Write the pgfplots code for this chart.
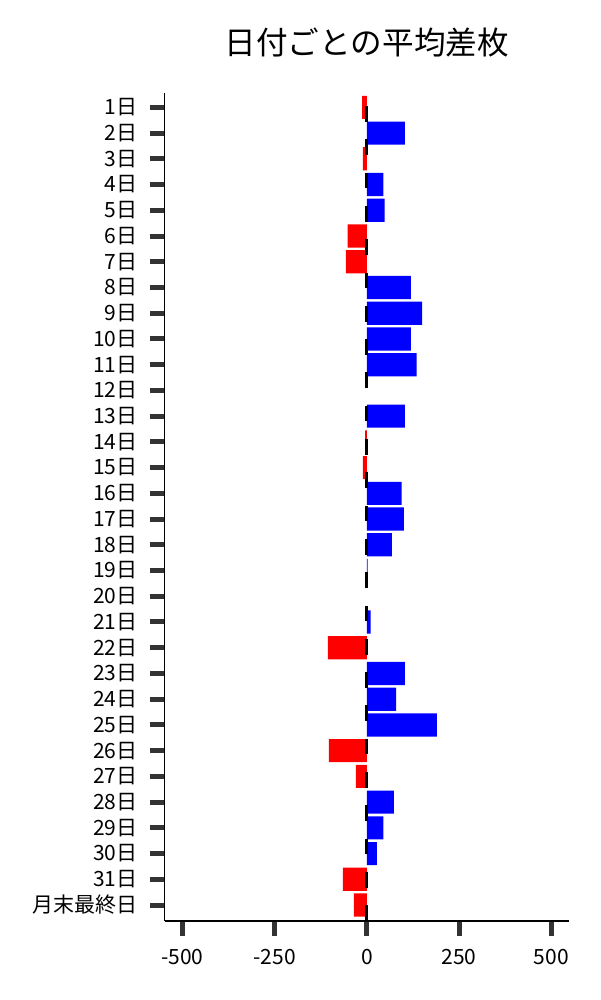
\documentclass[border=0pt]{standalone}
\usepackage{fontspec}
\setmainfont{Noto Sans CJK JP}
\usepackage{pgfplots}
\pgfplotsset{compat=1.18}
\definecolor{tickgray}{HTML}{333333}
\definecolor{barblue}{HTML}{0000FF}
\definecolor{barred}{HTML}{FF0000}

\begin{document}
\begin{tikzpicture}
\useasboundingbox (0,0) rectangle (300pt,500pt);
\begin{axis}[
    at={(82.35pt,39.5pt)}, anchor=south west,
    scale only axis,
    width=202.15pt, height=414.15pt,
    xmin=-548, xmax=548,
    ymin=-0.62, ymax=31.57,
    axis x line=bottom, axis y line=left,
    axis line style={-, line width=0.6pt, draw=black},
    tick align=outside,
    major tick length=7.5pt,
    tick style={line width=2.5pt, draw=tickgray},
    xtick={-500,-250,0,250,500},
    xticklabels={-500,-250,0,250,500},
    ytick={0,...,31},
    yticklabels={月末最終日,31日,30日,29日,28日,27日,26日,25日,24日,23日,22日,21日,20日,19日,18日,17日,16日,15日,14日,13日,12日,11日,10日,9日,8日,7日,6日,5日,4日,3日,2日,1日},
    ticklabel style={font=\fontsize{10.5}{12}\selectfont},
    xticklabel style={yshift=-3pt},
    yticklabel style={xshift=-2.5pt},
    xbar, bar width=0.9, bar shift=0pt,
    clip=false,
]
% positive averages
\addplot[fill=barblue, draw=none] coordinates {
  (103,30) (45,28) (48,27) (119,24) (150,23) (119,22) (135,21)
  (103,19) (94,16) (100,15) (68,14) (2,13) (10,11) (103,9)
  (79,8) (190,7) (73,4) (45,3) (27,2)
};
% negative averages
\addplot[fill=barred, draw=none] coordinates {
  (-13,31) (-11,29) (-52,26) (-57,25) (-5,18) (-11,17)
  (-106,10) (-103,6) (-30,5) (-65,1) (-35,0)
};
% zero line
\draw[black, line width=1.2pt, dash pattern=on 7.85pt off 8.8pt]
  (axis cs:-0.5,-0.62) -- (axis cs:-0.5,31.57);
\end{axis}
\node[font=\fontsize{15.8}{18}\selectfont] at (183.4pt,478.5pt) {日付ごとの平均差枚};
\end{tikzpicture}
\end{document}
